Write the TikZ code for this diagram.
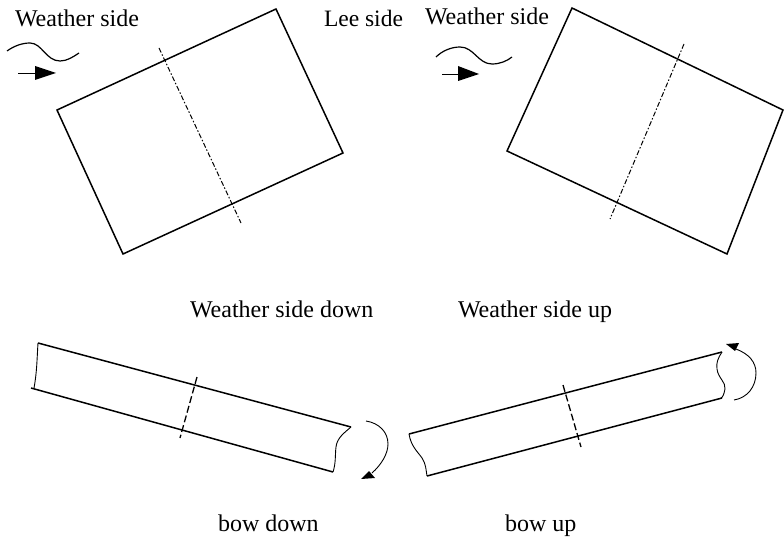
\documentclass[tikz,border=0pt]{standalone}
\usepackage{fontspec}
\setmainfont{Liberation Serif}
\tikzset{
  hull/.style={line width=1.5pt,line join=miter},
  thinedge/.style={line width=0.9pt},
  axisdd/.style={line width=1pt,dash pattern=on 5pt off 2pt on 1.5pt off 2pt},
  axisd/.style={line width=1.3pt,dash pattern=on 7pt off 3pt},
  lbl/.style={anchor=base west,inner sep=0pt,outer sep=0pt,font=\fontsize{24}{28}\selectfont},
  headfill/.style={fill=black,draw=none}
}
\begin{document}
\begin{tikzpicture}[x=1pt,y=-1pt]
\useasboundingbox (0,0) rectangle (784,540);
% labels
\node[lbl] (w1) at (15,27) {Weather side};
\node[lbl,font=\fontsize{23.5}{28}\selectfont] (lee) at (324,26.5) {Lee side};
\node[lbl] (w2) at (425,25) {Weather side};
\node[lbl] (wd) at (190,317.5) {Weather side down};
\node[lbl] (wu) at (458,317.5) {Weather side up};
\node[lbl] (bd) at (218,531.5) {bow down};
\node[lbl] (bu) at (505,531.5) {bow up};
% top rectangles
\draw[hull] (57,110) -- (276,9) -- (343,153) -- (123,254) -- cycle;
\draw[axisdd] (159,48) -- (241,223);
\draw[hull] (507,151) -- (572,8) -- (783,110) -- (727,254) -- cycle;
\draw[axisdd] (684,44) -- (610,219);
% waves and wind arrows
\draw[thinedge,line width=1.2pt] (7,51) .. controls (14,46) and (22,43) .. (30,43)
  .. controls (42,43) and (46,61) .. (60,61) .. controls (67,61) and (73,57) .. (79,53);
\draw[thinedge] (18,73) -- (35,73);
\path[headfill] (35,66) -- (56,73) -- (35,80) -- cycle;
\draw[thinedge,line width=1.2pt] (436,57) .. controls (442,51) and (451,47) .. (460,47)
  .. controls (474,47) and (478,64) .. (492,64) .. controls (500,64) and (507,61) .. (512,57);
\draw[thinedge] (442,74) -- (458,74);
\path[headfill] (458,66) -- (479,74) -- (458,81) -- cycle;
% bow down beam
\draw[hull] (38,343) -- (351,427);
\draw[hull] (31,388) -- (333,472);
\draw[thinedge] (38,343) .. controls (37,358) and (37,372) .. (34,388);
\draw[thinedge] (351,427) .. controls (344,433) and (337,438) .. (336,447)
  .. controls (335,455) and (336,463) .. (333,472);
\draw[axisd] (197,377) -- (180,438);
\draw[thinedge] (366,421) .. controls (379,423) and (388,432) .. (388,444)
  .. controls (388,454) and (381,465) .. (372,473);
\path[headfill] (361,479) -- (369,471) -- (375,478) -- cycle;
% bow up beam
\draw[hull] (409,434) -- (722,352);
\draw[hull] (427,476) -- (722,398);
\draw[thinedge] (409,434) .. controls (411,446) and (417,451) .. (422,458)
  .. controls (426,464) and (426,470) .. (427,476);
\draw[thinedge] (722,352) .. controls (718,358) and (716,363) .. (717,369)
  .. controls (718,378) and (726,382) .. (725,389) .. controls (724,394) and (723,397) .. (721,398);
\draw[axisd] (563,385) -- (581,447);
\draw[thinedge] (734,400) .. controls (747,398) and (756,387) .. (756,373)
  .. controls (756,362) and (749,354) .. (736,349);
\path[headfill] (726,344) -- (739,343) -- (735,351) -- cycle;
\end{tikzpicture}
\end{document}
